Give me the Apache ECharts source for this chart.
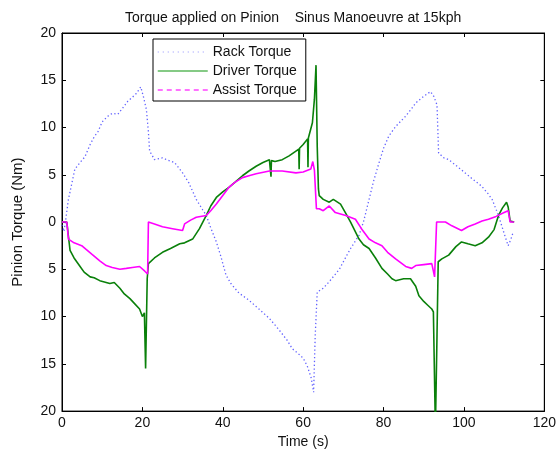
<!DOCTYPE html>
<html><head><meta charset="utf-8">
<script src="https://cdn.jsdelivr.net/npm/echarts@6/dist/echarts.min.js"></script>
<style>html,body{margin:0;padding:0;background:#fff}#c{width:559px;height:454px}</style>
</head><body><div id="c"></div>
<script>
// Data
const rackT = [0,0.5,1,1.6,2.5,3.2,4.5,5.7,7,8,9,10,11.4,12.5,13.9,15,16.4,17.5,18.5,19.6,20.3,21,21.5,21.8,22.5,23,25,26,28,30,31.5,33.4,35,35.9,37,38.4,39.5,40.8,42,44,46.6,49,51.6,54,56,57.3,59,60,61,62,62.6,63,63.5,65,66.5,69,70.5,71.8,73.9,75,76.4,77.5,78.9,80,81.3,83,85.5,87,88,90,91.7,92.5,93.3,93.7,95,96.2,98,100.3,102,104.4,106,107,108.6,110,111,111.7,112.3];
const rackV = [-0.3,-1.0,0.5,2.4,4.2,5.6,6.3,6.9,8.2,9,9.6,10.6,11.2,11.5,11.4,12,12.8,13.2,13.6,14.3,13.2,11.9,9.5,7.5,7,6.6,6.8,6.6,6.3,5.2,4.2,2.4,1.3,0.7,-0.6,-2.1,-3.6,-5.6,-6.5,-7.5,-8.3,-9.2,-10.2,-11.4,-12.5,-13.4,-14,-14.4,-15.2,-16.5,-18,-12,-7.4,-7,-6.3,-5,-3.8,-2.8,-1.4,0,2.4,4.3,6.3,7.8,9.1,10.1,11.2,12,12.6,13.3,13.8,13.3,12.4,7.3,6.8,6.6,6,5.2,4.6,3.8,3,2.4,0.7,-1.2,-2.5,-1.8,-1.0];

const driverT = [0,1.2,1.6,2,3,4.5,5.5,7,8,9.4,11.9,13,14.4,15.5,16.9,18,19.3,20,20.5,20.8,21.2,21.5,21.8,23,25,27,29.3,30.5,32.5,34.2,35.9,37,38.4,40,41.6,43,44.9,46.5,48.3,50,51.6,51.9,52.0,52.1,53,54.8,56.5,58.2,58.9,59.0,59.1,60,61.1,61.2,61.3,61.5,62.3,62.8,63.2,63.5,63.8,64,65,66.5,67.5,69.3,70.5,71.8,73.9,75,76.4,78,79.6,81,82.1,83,85,86.7,88,88.8,90,91,92,92.4,92.9,93.3,93.6,94.5,96.2,98,99.4,101,102.8,104.5,106.1,107.5,108.6,109.6,110.6,111,111.5,112.5];
const driverV = [0,0,-1.5,-3.0,-3.8,-4.7,-5.3,-5.8,-5.9,-6.2,-6.5,-6.4,-7,-7.6,-8.1,-8.6,-9.2,-10,-9.6,-15.5,-6,-4.4,-4.2,-3.8,-3.2,-2.8,-2.3,-2.2,-1.8,-0.7,0.7,1.7,2.6,3.2,3.7,4.2,4.9,5.4,5.9,6.3,6.6,6.6,4.8,6.5,6.4,6.6,7,7.5,7.7,5.6,7.8,8.2,8.8,5.8,8.9,9.1,10.5,13,16.6,8,3.5,2.8,2.4,2.1,2.4,1.9,1,0,-1.8,-2.4,-2.8,-3.8,-4.9,-5.5,-6.0,-6.2,-6,-6,-6.8,-7.8,-8.4,-8.8,-9.2,-9.5,-22,-12,-4.2,-3.9,-3.5,-2.6,-2.1,-2.3,-2.5,-2.2,-1.6,-0.8,0.7,1.5,2.1,1.6,0.1,0];

const assistT = [0,1.2,1.6,3,4.9,6,7.4,9.4,11,12.5,14.4,16,17.5,19.3,20.6,21.3,21.5,21.8,23,25,27.5,30,30.5,32,33.4,35.9,37,38.4,40,41.6,43,44.9,46.5,48.3,51.6,54.8,58.2,60,61.9,62.4,62.8,63.3,64,65,66.5,68,70.6,73,74.5,76.4,78,79.6,81,83,85.5,87,88,90,92,92.7,93.2,93.7,95.4,97,99.4,101,102.8,104.5,106.1,108,110,111,111.5,112.5];
const assistV = [0,0,-1.8,-2.2,-2.5,-2.9,-3.4,-4.1,-4.6,-4.8,-5,-4.9,-4.8,-4.7,-5.2,-5.5,0,0.1,-0.2,-0.5,-0.7,-0.9,-0.2,0.2,0.5,0.7,1.2,1.9,2.8,3.7,4.2,4.7,4.9,5.1,5.4,5.4,5.2,5.3,5.6,6.4,5.5,1.4,1.4,1.2,1.7,1.0,0.7,0.3,-0.7,-1.8,-2.2,-2.5,-3.2,-3.9,-4.7,-4.9,-4.6,-4.5,-4.4,-5.8,0,0,0,-0.4,-0.9,-0.5,-0.2,0.1,0.3,0.6,1,1.2,0,0];

const seriesNames = ['Rack Torque', 'Driver Torque', 'Assist Torque'];

const pair = (t, v) => t.map((x, i) => [x, v[i]]);

const chart = echarts.init(document.getElementById('c'), null, {renderer: 'canvas'});
const font = 'Liberation Sans, Arial, Helvetica, sans-serif';
const axisCommon = {
  axisLine: {show: true, onZero: false, lineStyle: {color: '#000', width: 1}},
  axisTick: {show: true, inside: true, length: 4, lineStyle: {color: '#000'}},
  splitLine: {show: false}
};
const hiddenSymbol = {color: 'rgba(0,0,0,0)', borderWidth: 0, opacity: 0};
chart.setOption({
  backgroundColor: '#fff',
  animation: false,
  textStyle: {fontFamily: font},
  title: {
    text: 'Torque applied on Pinion    Sinus Manoeuvre at 15kph',
    left: 120, top: 6,
    textStyle: {fontSize: 14, fontWeight: 'normal', color: '#111', fontFamily: font}
  },
  legend: {
    orient: 'vertical', left: 153, top: 39, z: 10,
    backgroundColor: '#fff', borderColor: '#000', borderWidth: 1,
    padding: [6, 9, 4, 4], itemGap: 5, itemWidth: 50, itemHeight: 14,
    textStyle: {fontSize: 14, color: '#111', fontFamily: font},
    itemStyle: hiddenSymbol,
    data: [
      {name: seriesNames[0], itemStyle: hiddenSymbol, lineStyle: {type: [1, 4], width: 1, color: '#7777ff'}},
      {name: seriesNames[1], itemStyle: hiddenSymbol, lineStyle: {type: 'solid', width: 1.5, color: '#5db85d'}},
      {name: seriesNames[2], itemStyle: hiddenSymbol, lineStyle: {type: [5, 4], width: 1.5, color: '#ff44ff'}}
    ]
  },
  grid: {left: 62, right: 13, top: 33, bottom: 41, show: true, borderColor: '#000', borderWidth: 1, backgroundColor: '#fff'},
  xAxis: [
    Object.assign({}, axisCommon, {
      type: 'value', min: 0, max: 120, interval: 20, position: 'bottom',
      name: 'Time (s)', nameLocation: 'middle', nameGap: 20,
      nameTextStyle: {fontSize: 14, color: '#111'},
      axisLabel: {fontSize: 14, color: '#111', margin: 5}
    }),
    Object.assign({}, axisCommon, {
      type: 'value', min: 0, max: 120, interval: 20, position: 'top',
      axisLabel: {show: false}
    })
  ],
  yAxis: [
    Object.assign({}, axisCommon, {
      type: 'value', min: -20, max: 20, interval: 5, position: 'left',
      name: 'Pinion Torque (Nm)', nameLocation: 'middle', nameGap: 37,
      nameTextStyle: {fontSize: 15, color: '#111'},
      axisLabel: {fontSize: 14, color: '#111', margin: 6, formatter: v => String(Math.abs(v))}
    }),
    Object.assign({}, axisCommon, {
      type: 'value', min: -20, max: 20, interval: 5, position: 'right',
      axisLabel: {show: false}
    })
  ],
  series: [
    {
      name: seriesNames[0], type: 'line', symbol: 'none', xAxisIndex: 0, yAxisIndex: 0,
      data: pair(rackT, rackV),
      lineStyle: {color: '#3a3aff', width: 1.3, type: [1.3, 2.5], opacity: 0.8},
      itemStyle: {color: '#3a3aff'}
    },
    {
      name: seriesNames[1], type: 'line', symbol: 'none', xAxisIndex: 0, yAxisIndex: 0,
      data: pair(driverT, driverV),
      lineStyle: {color: '#0a800a', width: 1.6},
      itemStyle: {color: '#0a800a'}
    },
    {
      name: seriesNames[2], type: 'line', symbol: 'none', xAxisIndex: 0, yAxisIndex: 0,
      data: pair(assistT, assistV),
      lineStyle: {color: '#ff00ff', width: 1.6},
      itemStyle: {color: '#ff00ff'}
    }
  ]
});
</script></body></html>
